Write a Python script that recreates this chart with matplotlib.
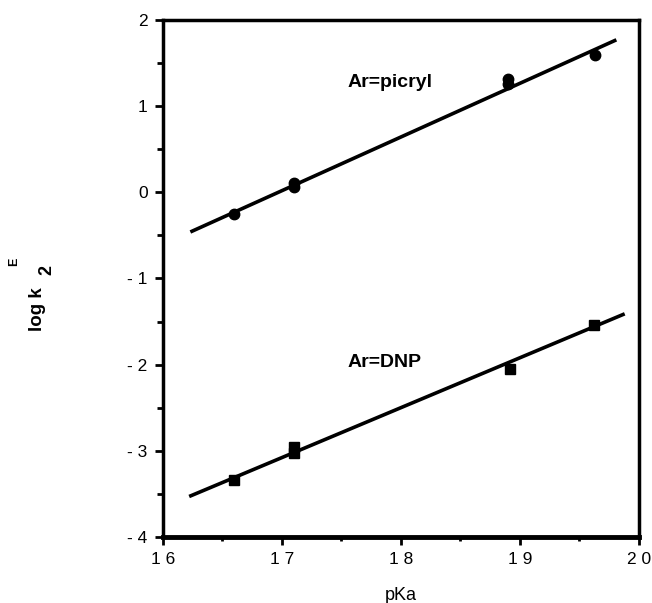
import numpy as np
import matplotlib
matplotlib.use("Agg")
import matplotlib.pyplot as plt
from matplotlib.ticker import MultipleLocator, FuncFormatter

plt.rcParams['font.family'] = ['Liberation Sans', 'DejaVu Sans']

# data
picryl_pka = [16.6, 17.1, 17.1, 18.9, 18.9, 19.63]
picryl_logk = [-0.25, 0.11, 0.06, 1.31, 1.26, 1.59]
dnp_pka = [16.6, 17.1, 17.1, 18.92, 19.62]
dnp_logk = [-3.34, -2.95, -3.03, -2.05, -1.54]

# fitted lines (end points)
picryl_fit_x = [16.23, 19.81]
picryl_fit_y = [-0.46, 1.77]
dnp_fit_x = [16.22, 19.88]
dnp_fit_y = [-3.53, -1.41]

fig = plt.figure(figsize=(6.52, 6.03), dpi=100)
ax = fig.add_axes([0.25, 0.1095, 0.73, 0.8573])

ax.plot(picryl_fit_x, picryl_fit_y, color='black', lw=2.6, solid_capstyle='butt')
ax.plot(dnp_fit_x, dnp_fit_y, color='black', lw=2.6, solid_capstyle='butt')
ax.plot(picryl_pka, picryl_logk, 'o', color='black', ms=7.5)
ax.plot(dnp_pka, dnp_logk, 's', color='black', ms=6.5, mfc='black')

ax.text(17.55, 1.28, 'Ar=picryl', fontsize=14, fontweight='bold', va='center', ha='left')
ax.text(17.55, -1.98, 'Ar=DNP', fontsize=14, fontweight='bold', va='center', ha='left')

ax.set_xlim(16, 20)
ax.set_ylim(-4, 2)
ax.xaxis.set_major_locator(MultipleLocator(1))
ax.xaxis.set_minor_locator(MultipleLocator(0.5))
ax.yaxis.set_major_locator(MultipleLocator(1))
ax.yaxis.set_minor_locator(MultipleLocator(0.5))

def fmt(v, pos):
    v = int(round(v))
    return '- %d' % abs(v) if v < 0 else '%d' % v

ax.yaxis.set_major_formatter(FuncFormatter(fmt))
ax.xaxis.set_major_formatter(FuncFormatter(lambda v, p: ' '.join('%d' % v)))

ax.tick_params(which='major', direction='out', length=6, width=2, labelsize=12.5, pad=5)
ax.tick_params(which='minor', direction='out', length=4, width=2)
ax.tick_params(axis='x', which='minor', length=3)

for s in ['left', 'top', 'right']:
    ax.spines[s].set_linewidth(2.5)
ax.spines['bottom'].set_linewidth(3.5)

ax.set_xlabel('pKa', fontsize=13, labelpad=14)

# y label: log k with subscript 2 and superscript E, placed as separate pieces
fig.text(38 / 652, 1 - 309 / 603, 'log k', rotation=90, fontsize=13.5,
         fontweight='bold', va='center', ha='center')
fig.text(47 / 652, 1 - 270 / 603, '2', rotation=90, fontsize=13,
         fontweight='bold', va='center', ha='center')
fig.text(14 / 652, 1 - 262 / 603, 'E', rotation=90, fontsize=9,
         fontweight='bold', va='center', ha='center')

fig.savefig('out.png', dpi=100)
